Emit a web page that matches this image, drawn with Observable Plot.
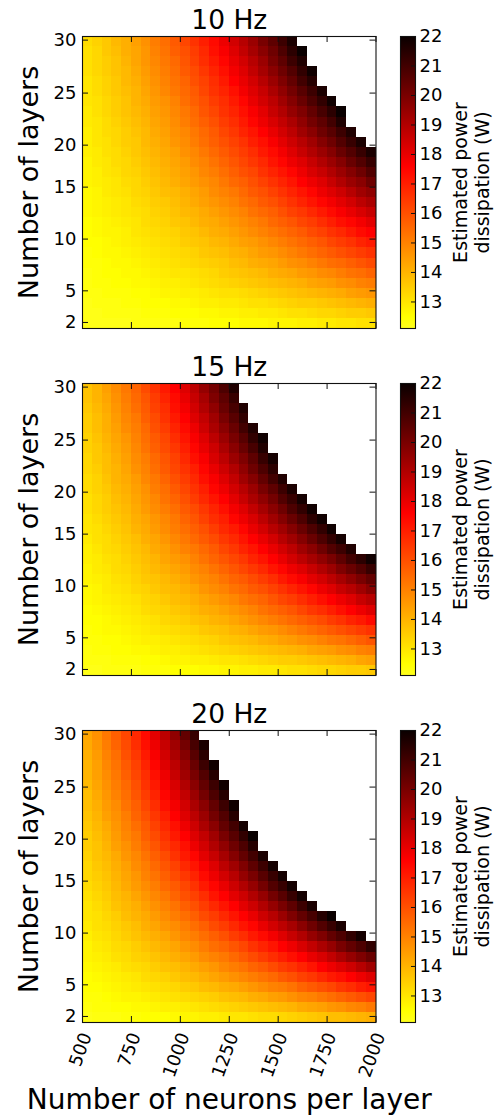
<!DOCTYPE html>
<html>
<head>
<meta charset="utf-8">
<script src="https://cdn.jsdelivr.net/npm/d3@7"></script>
<script src="https://cdn.jsdelivr.net/npm/@observablehq/plot@0.6"></script>
<style>
html,body{margin:0;padding:0;background:#fff;}
#chart{position:relative;width:498px;height:1118px;overflow:hidden;background:#fff;font-family:"DejaVu Sans",sans-serif;}
#chart svg{position:absolute;left:0;overflow:visible;}
</style>
</head>
<body>
<div id="chart"></div>
<script>
// ---- categories / ticks ----
const neurons = [500,550,600,650,700,750,800,850,900,950,1000,1050,1100,1150,1200,1250,1300,1350,1400,1450,1500,1550,1600,1650,1700,1750,1800,1850,1900,1950];
const layers = [2,3,4,5,6,7,8,9,10,11,12,13,14,15,16,17,18,19,20,21,22,23,24,25,26,27,28,29,30];
const freqs = ["10 Hz","15 Hz","20 Hz"];
const xTicks = [500,750,1000,1250,1500,1750,2000];
const yTickLabels = [2,5,10,15,20,25,30];
const yTickPos = [2.1,5.24,10.38,15.54,19.71,24.88,30.14];
const cbTicks = [13,14,15,16,17,18,19,20,21,22];
const cbDomain = [12.1,22];
const colorStops = [12.1,12.5,17.6,22];
const colorRange = ["#ffff1e","#ffff00","#ff0000","#0a0000"];

// ---- estimated power (W): one array per neurons column, values for layers 2,3,4,... (cells above 22 W are blank) ----
const power10 = [
[12.2,12.2,12.2,12.3,12.3,12.3,12.4,12.4,12.5,12.5,12.5,12.6,12.6,12.6,12.7,12.7,12.7,12.8,12.8,12.8,12.9,12.9,13.0,13.0,13.0,13.1,13.1,13.1,13.2],
[12.2,12.2,12.3,12.3,12.4,12.4,12.4,12.5,12.5,12.6,12.6,12.7,12.7,12.7,12.8,12.8,12.9,12.9,13.0,13.0,13.0,13.1,13.1,13.2,13.2,13.3,13.3,13.3,13.4],
[12.2,12.3,12.3,12.4,12.4,12.5,12.5,12.6,12.6,12.7,12.7,12.8,12.8,12.9,12.9,13.0,13.0,13.1,13.1,13.2,13.2,13.3,13.3,13.4,13.4,13.5,13.5,13.6,13.6],
[12.2,12.3,12.3,12.4,12.5,12.5,12.6,12.6,12.7,12.7,12.8,12.9,12.9,13.0,13.0,13.1,13.2,13.2,13.3,13.3,13.4,13.5,13.5,13.6,13.6,13.7,13.7,13.8,13.9],
[12.2,12.3,12.4,12.4,12.5,12.6,12.6,12.7,12.8,12.8,12.9,13.0,13.0,13.1,13.2,13.3,13.3,13.4,13.5,13.5,13.6,13.7,13.7,13.8,13.9,13.9,14.0,14.1,14.1],
[12.3,12.3,12.4,12.5,12.6,12.6,12.7,12.8,12.9,13.0,13.0,13.1,13.2,13.3,13.3,13.4,13.5,13.6,13.6,13.7,13.8,13.9,14.0,14.0,14.1,14.2,14.3,14.3,14.4],
[12.3,12.4,12.5,12.5,12.6,12.7,12.8,12.9,13.0,13.1,13.2,13.2,13.3,13.4,13.5,13.6,13.7,13.8,13.9,13.9,14.0,14.1,14.2,14.3,14.4,14.5,14.6,14.6,14.7],
[12.3,12.4,12.5,12.6,12.7,12.8,12.9,13.0,13.1,13.2,13.3,13.4,13.5,13.6,13.7,13.8,13.9,14.0,14.1,14.2,14.3,14.4,14.5,14.6,14.7,14.8,14.9,15.0,15.1],
[12.3,12.4,12.5,12.7,12.8,12.9,13.0,13.1,13.2,13.3,13.4,13.5,13.6,13.8,13.9,14.0,14.1,14.2,14.3,14.4,14.5,14.6,14.7,14.9,15.0,15.1,15.2,15.3,15.4],
[12.3,12.5,12.6,12.7,12.8,13.0,13.1,13.2,13.3,13.4,13.6,13.7,13.8,13.9,14.1,14.2,14.3,14.4,14.6,14.7,14.8,14.9,15.0,15.2,15.3,15.4,15.5,15.7,15.8],
[12.4,12.5,12.6,12.8,12.9,13.0,13.2,13.3,13.5,13.6,13.7,13.9,14.0,14.1,14.3,14.4,14.5,14.7,14.8,14.9,15.1,15.2,15.4,15.5,15.6,15.8,15.9,16.0,16.2],
[12.4,12.5,12.7,12.8,13.0,13.1,13.3,13.4,13.6,13.7,13.9,14.0,14.2,14.3,14.5,14.6,14.8,14.9,15.1,15.2,15.4,15.5,15.7,15.8,16.0,16.1,16.3,16.4,16.6],
[12.4,12.6,12.8,12.9,13.1,13.2,13.4,13.6,13.7,13.9,14.1,14.2,14.4,14.5,14.7,14.9,15.0,15.2,15.4,15.5,15.7,15.9,16.0,16.2,16.3,16.5,16.7,16.8,17.0],
[12.5,12.6,12.8,13.0,13.2,13.3,13.5,13.7,13.9,14.1,14.2,14.4,14.6,14.8,14.9,15.1,15.3,15.5,15.7,15.8,16.0,16.2,16.4,16.6,16.7,16.9,17.1,17.3,17.4],
[12.5,12.7,12.9,13.1,13.3,13.5,13.6,13.8,14.0,14.2,14.4,14.6,14.8,15.0,15.2,15.4,15.6,15.8,16.0,16.2,16.4,16.6,16.7,16.9,17.1,17.3,17.5,17.7,17.9],
[12.5,12.7,12.9,13.1,13.4,13.6,13.8,14.0,14.2,14.4,14.6,14.8,15.0,15.2,15.5,15.7,15.9,16.1,16.3,16.5,16.7,16.9,17.1,17.3,17.6,17.8,18.0,18.2,18.4],
[12.6,12.8,13.0,13.2,13.5,13.7,13.9,14.1,14.4,14.6,14.8,15.0,15.3,15.5,15.7,16.0,16.2,16.4,16.6,16.9,17.1,17.3,17.5,17.8,18.0,18.2,18.4,18.7,18.9],
[12.6,12.8,13.1,13.3,13.6,13.8,14.1,14.3,14.5,14.8,15.0,15.3,15.5,15.8,16.0,16.2,16.5,16.7,17.0,17.2,17.5,17.7,18.0,18.2,18.4,18.7,18.9,19.2,19.4],
[12.6,12.9,13.1,13.4,13.7,13.9,14.2,14.5,14.7,15.0,15.2,15.5,15.8,16.0,16.3,16.6,16.8,17.1,17.3,17.6,17.9,18.1,18.4,18.6,18.9,19.2,19.4,19.7,20.0],
[12.7,12.9,13.2,13.5,13.8,14.1,14.3,14.6,14.9,15.2,15.5,15.7,16.0,16.3,16.6,16.9,17.2,17.4,17.7,18.0,18.3,18.6,18.8,19.1,19.4,19.7,20.0,20.2,20.5],
[12.7,13.0,13.3,13.6,13.9,14.2,14.5,14.8,15.1,15.4,15.7,16.0,16.3,16.6,16.9,17.2,17.5,17.8,18.1,18.4,18.7,19.0,19.3,19.6,19.9,20.2,20.5,20.8,21.1],
[12.7,13.1,13.4,13.7,14.0,14.3,14.7,15.0,15.3,15.6,15.9,16.3,16.6,16.9,17.2,17.5,17.9,18.2,18.5,18.8,19.1,19.5,19.8,20.1,20.4,20.7,21.1,21.4,21.7],
[12.8,13.1,13.5,13.8,14.1,14.5,14.8,15.2,15.5,15.8,16.2,16.5,16.9,17.2,17.6,17.9,18.2,18.6,18.9,19.3,19.6,19.9,20.3,20.6,21.0,21.3,21.6,22.0],
[12.8,13.2,13.5,13.9,14.3,14.6,15.0,15.4,15.7,16.1,16.4,16.8,17.2,17.5,17.9,18.3,18.6,19.0,19.3,19.7,20.1,20.4,20.8,21.1,21.5,21.9],
[12.9,13.3,13.6,14.0,14.4,14.8,15.2,15.6,15.9,16.3,16.7,17.1,17.5,17.9,18.2,18.6,19.0,19.4,19.8,20.2,20.5,20.9,21.3,21.7],
[12.9,13.3,13.7,14.1,14.5,14.9,15.4,15.8,16.2,16.6,17.0,17.4,17.8,18.2,18.6,19.0,19.4,19.8,20.2,20.6,21.0,21.4,21.9],
[13.0,13.4,13.8,14.2,14.7,15.1,15.5,16.0,16.4,16.8,17.3,17.7,18.1,18.5,19.0,19.4,19.8,20.3,20.7,21.1,21.6,22.0],
[13.0,13.5,13.9,14.4,14.8,15.3,15.7,16.2,16.6,17.1,17.5,18.0,18.4,18.9,19.4,19.8,20.3,20.7,21.2,21.6],
[13.1,13.5,14.0,14.5,15.0,15.4,15.9,16.4,16.9,17.4,17.8,18.3,18.8,19.3,19.7,20.2,20.7,21.2,21.7],
[13.1,13.6,14.1,14.6,15.1,15.6,16.1,16.6,17.1,17.6,18.1,18.6,19.1,19.6,20.2,20.7,21.2,21.7]
];
const power15 = [
[12.2,12.3,12.3,12.4,12.4,12.5,12.5,12.6,12.6,12.7,12.7,12.8,12.8,12.9,13.0,13.0,13.1,13.1,13.2,13.2,13.3,13.3,13.4,13.4,13.5,13.5,13.6,13.7,13.7],
[12.2,12.3,12.4,12.4,12.5,12.5,12.6,12.7,12.7,12.8,12.9,12.9,13.0,13.1,13.1,13.2,13.3,13.3,13.4,13.4,13.5,13.6,13.6,13.7,13.8,13.8,13.9,14.0,14.0],
[12.3,12.3,12.4,12.5,12.6,12.6,12.7,12.8,12.9,12.9,13.0,13.1,13.2,13.2,13.3,13.4,13.5,13.5,13.6,13.7,13.8,13.8,13.9,14.0,14.1,14.1,14.2,14.3,14.4],
[12.3,12.4,12.5,12.5,12.6,12.7,12.8,12.9,13.0,13.1,13.2,13.2,13.3,13.4,13.5,13.6,13.7,13.8,13.9,14.0,14.0,14.1,14.2,14.3,14.4,14.5,14.6,14.7,14.8],
[12.3,12.4,12.5,12.6,12.7,12.8,12.9,13.0,13.1,13.2,13.3,13.4,13.5,13.6,13.7,13.8,13.9,14.0,14.1,14.2,14.3,14.4,14.5,14.6,14.8,14.9,15.0,15.1,15.2],
[12.3,12.4,12.6,12.7,12.8,12.9,13.0,13.1,13.3,13.4,13.5,13.6,13.7,13.8,14.0,14.1,14.2,14.3,14.4,14.5,14.7,14.8,14.9,15.0,15.1,15.2,15.4,15.5,15.6],
[12.4,12.5,12.6,12.8,12.9,13.0,13.2,13.3,13.4,13.6,13.7,13.8,13.9,14.1,14.2,14.3,14.5,14.6,14.7,14.9,15.0,15.1,15.3,15.4,15.5,15.7,15.8,15.9,16.1],
[12.4,12.5,12.7,12.8,13.0,13.1,13.3,13.4,13.6,13.7,13.9,14.0,14.2,14.3,14.5,14.6,14.8,14.9,15.1,15.2,15.4,15.5,15.7,15.8,16.0,16.1,16.3,16.4,16.6],
[12.4,12.6,12.8,12.9,13.1,13.3,13.4,13.6,13.8,13.9,14.1,14.3,14.4,14.6,14.8,14.9,15.1,15.3,15.4,15.6,15.8,15.9,16.1,16.2,16.4,16.6,16.7,16.9,17.1],
[12.5,12.7,12.8,13.0,13.2,13.4,13.6,13.8,13.9,14.1,14.3,14.5,14.7,14.9,15.1,15.2,15.4,15.6,15.8,16.0,16.2,16.3,16.5,16.7,16.9,17.1,17.3,17.4,17.6],
[12.5,12.7,12.9,13.1,13.3,13.5,13.7,13.9,14.1,14.3,14.5,14.7,15.0,15.2,15.4,15.6,15.8,16.0,16.2,16.4,16.6,16.8,17.0,17.2,17.4,17.6,17.8,18.0,18.2],
[12.5,12.8,13.0,13.2,13.4,13.7,13.9,14.1,14.3,14.6,14.8,15.0,15.2,15.5,15.7,15.9,16.1,16.4,16.6,16.8,17.0,17.3,17.5,17.7,17.9,18.2,18.4,18.6,18.8],
[12.6,12.8,13.1,13.3,13.6,13.8,14.1,14.3,14.6,14.8,15.0,15.3,15.5,15.8,16.0,16.3,16.5,16.8,17.0,17.3,17.5,17.7,18.0,18.2,18.5,18.7,19.0,19.2,19.5],
[12.6,12.9,13.2,13.4,13.7,14.0,14.2,14.5,14.8,15.0,15.3,15.6,15.8,16.1,16.4,16.7,16.9,17.2,17.5,17.7,18.0,18.3,18.5,18.8,19.1,19.3,19.6,19.9,20.1],
[12.7,13.0,13.3,13.6,13.8,14.1,14.4,14.7,15.0,15.3,15.6,15.9,16.2,16.5,16.8,17.0,17.3,17.6,17.9,18.2,18.5,18.8,19.1,19.4,19.7,20.0,20.3,20.5,20.8],
[12.7,13.0,13.4,13.7,14.0,14.3,14.6,14.9,15.3,15.6,15.9,16.2,16.5,16.8,17.1,17.5,17.8,18.1,18.4,18.7,19.0,19.4,19.7,20.0,20.3,20.6,20.9,21.2,21.6],
[12.8,13.1,13.5,13.8,14.1,14.5,14.8,15.2,15.5,15.8,16.2,16.5,16.9,17.2,17.5,17.9,18.2,18.6,18.9,19.3,19.6,19.9,20.3,20.6,21.0,21.3,21.6],
[12.8,13.2,13.6,13.9,14.3,14.7,15.0,15.4,15.8,16.1,16.5,16.9,17.2,17.6,18.0,18.3,18.7,19.1,19.4,19.8,20.2,20.5,20.9,21.3,21.6],
[12.9,13.3,13.7,14.1,14.5,14.9,15.3,15.6,16.0,16.4,16.8,17.2,17.6,18.0,18.4,18.8,19.2,19.6,20.0,20.4,20.8,21.2,21.6,21.9],
[12.9,13.4,13.8,14.2,14.6,15.1,15.5,15.9,16.3,16.7,17.2,17.6,18.0,18.4,18.9,19.3,19.7,20.1,20.5,21.0,21.4,21.8],
[13.0,13.5,13.9,14.4,14.8,15.3,15.7,16.2,16.6,17.1,17.5,18.0,18.4,18.9,19.3,19.8,20.2,20.7,21.1,21.6],
[13.1,13.5,14.0,14.5,15.0,15.5,15.9,16.4,16.9,17.4,17.9,18.4,18.8,19.3,19.8,20.3,20.8,21.2,21.7],
[13.1,13.6,14.1,14.7,15.2,15.7,16.2,16.7,17.2,17.7,18.2,18.8,19.3,19.8,20.3,20.8,21.3,21.8],
[13.2,13.7,14.3,14.8,15.4,15.9,16.5,17.0,17.5,18.1,18.6,19.2,19.7,20.3,20.8,21.4,21.9],
[13.3,13.8,14.4,15.0,15.6,16.1,16.7,17.3,17.9,18.4,19.0,19.6,20.2,20.8,21.3,21.9],
[13.3,13.9,14.5,15.2,15.8,16.4,17.0,17.6,18.2,18.8,19.4,20.0,20.7,21.3,21.9],
[13.4,14.0,14.7,15.3,16.0,16.6,17.3,17.9,18.6,19.2,19.9,20.5,21.1,21.8],
[13.5,14.1,14.8,15.5,16.2,16.9,17.6,18.2,18.9,19.6,20.3,21.0,21.6],
[13.5,14.3,15.0,15.7,16.4,17.1,17.9,18.6,19.3,20.0,20.7,21.4],
[13.6,14.4,15.1,15.9,16.6,17.4,18.2,18.9,19.7,20.4,21.2,21.9]
];
const power20 = [
[12.2,12.3,12.4,12.5,12.5,12.6,12.7,12.7,12.8,12.9,13.0,13.0,13.1,13.2,13.3,13.3,13.4,13.5,13.5,13.6,13.7,13.8,13.8,13.9,14.0,14.0,14.1,14.2,14.3],
[12.3,12.4,12.4,12.5,12.6,12.7,12.8,12.9,13.0,13.1,13.1,13.2,13.3,13.4,13.5,13.6,13.7,13.7,13.8,13.9,14.0,14.1,14.2,14.3,14.4,14.4,14.5,14.6,14.7],
[12.3,12.4,12.5,12.6,12.7,12.8,12.9,13.0,13.1,13.2,13.3,13.4,13.5,13.6,13.7,13.8,13.9,14.0,14.1,14.2,14.4,14.5,14.6,14.7,14.8,14.9,15.0,15.1,15.2],
[12.3,12.5,12.6,12.7,12.8,12.9,13.1,13.2,13.3,13.4,13.5,13.7,13.8,13.9,14.0,14.1,14.2,14.4,14.5,14.6,14.7,14.8,15.0,15.1,15.2,15.3,15.4,15.6,15.7],
[12.4,12.5,12.7,12.8,12.9,13.1,13.2,13.3,13.5,13.6,13.8,13.9,14.0,14.2,14.3,14.4,14.6,14.7,14.9,15.0,15.1,15.3,15.4,15.5,15.7,15.8,16.0,16.1,16.2],
[12.4,12.6,12.7,12.9,13.0,13.2,13.4,13.5,13.7,13.8,14.0,14.1,14.3,14.5,14.6,14.8,14.9,15.1,15.2,15.4,15.6,15.7,15.9,16.0,16.2,16.3,16.5,16.7,16.8],
[12.5,12.6,12.8,13.0,13.2,13.3,13.5,13.7,13.9,14.1,14.2,14.4,14.6,14.8,15.0,15.1,15.3,15.5,15.7,15.8,16.0,16.2,16.4,16.6,16.7,16.9,17.1,17.3,17.4],
[12.5,12.7,12.9,13.1,13.3,13.5,13.7,13.9,14.1,14.3,14.5,14.7,14.9,15.1,15.3,15.5,15.7,15.9,16.1,16.3,16.5,16.7,16.9,17.1,17.3,17.5,17.7,17.9,18.1],
[12.5,12.8,13.0,13.2,13.4,13.7,13.9,14.1,14.3,14.6,14.8,15.0,15.2,15.5,15.7,15.9,16.1,16.4,16.6,16.8,17.0,17.3,17.5,17.7,17.9,18.2,18.4,18.6,18.8],
[12.6,12.8,13.1,13.3,13.6,13.8,14.1,14.3,14.6,14.8,15.1,15.3,15.6,15.8,16.1,16.3,16.6,16.8,17.1,17.3,17.6,17.8,18.1,18.3,18.6,18.8,19.1,19.3,19.6],
[12.7,12.9,13.2,13.5,13.8,14.0,14.3,14.6,14.9,15.1,15.4,15.7,16.0,16.2,16.5,16.8,17.1,17.3,17.6,17.9,18.2,18.4,18.7,19.0,19.3,19.5,19.8,20.1,20.4],
[12.7,13.0,13.3,13.6,13.9,14.2,14.5,14.8,15.1,15.4,15.7,16.0,16.3,16.6,16.9,17.2,17.5,17.9,18.2,18.5,18.8,19.1,19.4,19.7,20.0,20.3,20.6,20.9,21.2],
[12.8,13.1,13.4,13.8,14.1,14.4,14.8,15.1,15.4,15.7,16.1,16.4,16.7,17.1,17.4,17.7,18.1,18.4,18.7,19.1,19.4,19.7,20.1,20.4,20.7,21.1,21.4,21.7],
[12.8,13.2,13.5,13.9,14.3,14.6,15.0,15.4,15.7,16.1,16.4,16.8,17.2,17.5,17.9,18.2,18.6,19.0,19.3,19.7,20.1,20.4,20.8,21.1,21.5,21.9],
[12.9,13.3,13.7,14.1,14.5,14.9,15.2,15.6,16.0,16.4,16.8,17.2,17.6,18.0,18.4,18.8,19.2,19.6,20.0,20.4,20.7,21.1,21.5,21.9],
[13.0,13.4,13.8,14.2,14.7,15.1,15.5,15.9,16.4,16.8,17.2,17.6,18.1,18.5,18.9,19.3,19.8,20.2,20.6,21.0,21.5,21.9],
[13.0,13.5,13.9,14.4,14.9,15.3,15.8,16.2,16.7,17.2,17.6,18.1,18.5,19.0,19.5,19.9,20.4,20.8,21.3,21.8],
[13.1,13.6,14.1,14.6,15.1,15.6,16.1,16.6,17.1,17.5,18.0,18.5,19.0,19.5,20.0,20.5,21.0,21.5,22.0],
[13.2,13.7,14.2,14.8,15.3,15.8,16.4,16.9,17.4,18.0,18.5,19.0,19.5,20.1,20.6,21.1,21.7],
[13.2,13.8,14.4,15.0,15.5,16.1,16.7,17.2,17.8,18.4,18.9,19.5,20.1,20.7,21.2,21.8],
[13.3,13.9,14.5,15.1,15.8,16.4,17.0,17.6,18.2,18.8,19.4,20.0,20.6,21.2,21.8],
[13.4,14.0,14.7,15.3,16.0,16.6,17.3,17.9,18.6,19.2,19.9,20.5,21.2,21.8],
[13.5,14.2,14.9,15.6,16.3,16.9,17.6,18.3,19.0,19.7,20.4,21.1,21.8],
[13.6,14.3,15.0,15.8,16.5,17.2,18.0,18.7,19.5,20.2,20.9,21.7],
[13.7,14.4,15.2,16.0,16.8,17.6,18.3,19.1,19.9,20.7,21.5],
[13.8,14.6,15.4,16.2,17.1,17.9,18.7,19.5,20.4,21.2,22.0],
[13.8,14.7,15.6,16.5,17.3,18.2,19.1,20.0,20.8,21.7],
[13.9,14.9,15.8,16.7,17.6,18.5,19.5,20.4,21.3],
[14.0,15.0,16.0,17.0,17.9,18.9,19.9,20.8,21.8],
[14.1,15.2,16.2,17.2,18.2,19.3,20.3,21.3]
];
const powers = [power10, power15, power20];
const cbLabel = "Estimated power\ndissipation (W)";
const xLabel = "Number of neurons per layer";
const yLabel = "Number of layers";

// ---- layout ----
const W = 498, MT = 36, FH = 292, ML = 82, MR = 122.5;
const FW = W - ML - MR;
const panelTops = [0, 347, 694];
const font = '"DejaVu Sans", sans-serif';
const chart = document.getElementById("chart");
const ns = "http://www.w3.org/2000/svg";

powers.forEach((cols, k) => {
  const cells = [];
  cols.forEach((col, c) => col.forEach((v, i) => cells.push({n: neurons[c], L: layers[i], v})));
  const last = k === powers.length - 1;
  const MB = last ? 96 : 8;
  const marks = [
    Plot.rect(cells, {x1: "n", x2: d => d.n + 50, y1: d => d.L - 0.5, y2: d => d.L + 0.5, fill: "v", shapeRendering: "crispEdges"}),
    Plot.frame({stroke: "#111", strokeWidth: 1.1}),
    Plot.tickX(xTicks, {x: d => d, insetBottom: FH - 6, stroke: "#111"}),
    Plot.tickX(xTicks, {x: d => d, insetTop: FH - 6, stroke: "#111"}),
    Plot.tickY(yTickPos, {y: d => d, insetRight: FW - 6, stroke: "#111"}),
    Plot.tickY(yTickPos, {y: d => d, insetLeft: FW - 6, stroke: "#111"}),
    Plot.text(yTickPos, {y: d => d, text: (d, i) => String(yTickLabels[i]), frameAnchor: "left", textAnchor: "end", lineAnchor: "middle", dx: -6, fontSize: 18, fill: "#000"}),
    Plot.text([freqs[k]], {text: d => d, frameAnchor: "top", lineAnchor: "bottom", dy: -7.5, fontSize: 26.5, fill: "#000"}),
    Plot.text([yLabel], {text: d => d, frameAnchor: "left", rotate: -90, textAnchor: "middle", lineAnchor: "bottom", dx: -44.5, fontSize: 27, fill: "#000"})
  ];
  if (last) {
    marks.push(Plot.text(xTicks, {x: d => d, text: d => String(d), frameAnchor: "bottom", rotate: -70, textAnchor: "end", lineAnchor: "middle", dx: 4, dy: 11, fontSize: 18, fill: "#000"}));
    marks.push(Plot.text([xLabel], {text: d => d, frameAnchor: "bottom", lineAnchor: "bottom", dy: 86, fontSize: 28, fill: "#000"}));
  }
  const heat = Plot.plot({
    width: W, height: MT + FH + MB,
    marginTop: MT, marginBottom: MB, marginLeft: ML, marginRight: MR,
    x: {domain: [500, 2000], axis: null},
    y: {domain: [1.5, 30.5], axis: null},
    color: {type: "linear", domain: colorStops, range: colorRange},
    style: {fontFamily: font, background: "transparent", color: "#000", overflow: "visible"},
    marks
  });
  heat.style.top = panelTops[k] + "px";
  chart.appendChild(heat);

  // colorbar
  const cb = Plot.plot({
    width: W, height: MT + FH + MB,
    marginTop: MT, marginBottom: MB, marginLeft: 400, marginRight: 83,
    y: {domain: cbDomain, axis: null},
    style: {fontFamily: font, background: "transparent", color: "#000", overflow: "visible"},
    marks: [
      Plot.frame({fill: "#888", stroke: "#111", strokeWidth: 1.1}),
      Plot.tickY(cbTicks, {y: d => d, insetLeft: 11, stroke: "#111"}),
      Plot.text(cbTicks, {y: d => d, text: d => String(d), frameAnchor: "right", textAnchor: "start", lineAnchor: "middle", dx: 4, fontSize: 18, fill: "#000"}),
      Plot.text([cbLabel], {text: d => d, frameAnchor: "right", rotate: -90, textAnchor: "middle", lineAnchor: "middle", lineHeight: 1.16, dx: 55, fontSize: 19, fill: "#000"})
    ]
  });
  const defs = document.createElementNS(ns, "defs");
  const grad = document.createElementNS(ns, "linearGradient");
  const gid = "cbgrad" + k;
  grad.setAttribute("id", gid);
  grad.setAttribute("x1", "0"); grad.setAttribute("y1", "0");
  grad.setAttribute("x2", "0"); grad.setAttribute("y2", "1");
  for (let j = colorStops.length - 1; j >= 0; --j) {
    const s = document.createElementNS(ns, "stop");
    s.setAttribute("offset", String((cbDomain[1] - colorStops[j]) / (cbDomain[1] - cbDomain[0])));
    s.setAttribute("stop-color", colorRange[j]);
    grad.appendChild(s);
  }
  defs.appendChild(grad);
  cb.insertBefore(defs, cb.firstChild);
  const fr = cb.querySelector('[aria-label="frame"]');
  const rect = fr && (fr.tagName.toLowerCase() === "rect" ? fr : fr.querySelector("rect"));
  if (rect) rect.setAttribute("fill", `url(#${gid})`);
  cb.style.top = panelTops[k] + "px";
  chart.appendChild(cb);
});
</script>
</body>
</html>
